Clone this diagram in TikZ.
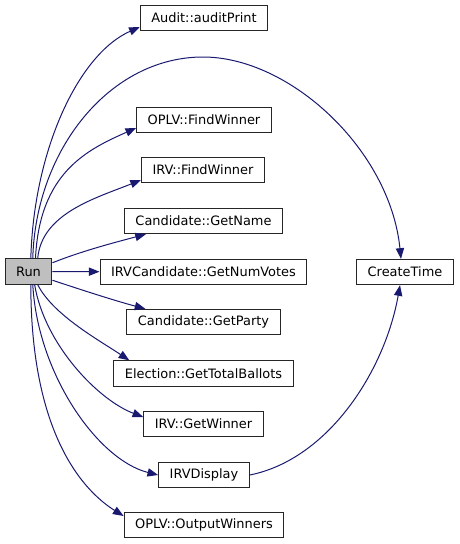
\documentclass[tikz,border=0pt]{standalone}
\usepackage{fontspec}
\setmainfont{DejaVu Sans}
\usetikzlibrary{arrows.meta,calc}
\definecolor{edgeblue}{HTML}{191970}
\definecolor{runfill}{HTML}{BFBFBF}
\tikzset{
  fn/.style={rectangle, draw=black!85, line width=0.75pt, fill=white,
             font=\fontsize{9.7}{11}\selectfont, inner xsep=8.3pt, inner ysep=2pt,
             minimum height=19pt},
  cur/.style={fn, fill=runfill},
  fl/.style={-{Triangle[length=8pt,width=6.2pt]}, draw=edgeblue, line width=0.75pt},
}
\begin{document}
\begin{tikzpicture}[x=0.75pt,y=-0.75pt]
\useasboundingbox (0,0) rectangle (460,544);
\node[cur] (run) at (28.5,271.5) {Run};
\node[fn] (audit) at (204,18) {Audit::auditPrint};
\node[fn] (oplvfind) at (204,120) {OPLV::FindWinner};
\node[fn] (irvfind) at (203,170) {IRV::FindWinner};
\node[fn] (getname) at (203.5,221) {Candidate::GetName};
\node[fn] (getnumvotes) at (203.5,272) {IRVCandidate::GetNumVotes};
\node[fn] (getparty) at (203.5,322) {Candidate::GetParty};
\node[fn] (gettotal) at (203.5,373.5) {Election::GetTotalBallots};
\node[fn] (irvgetwinner) at (203.5,424) {IRV::GetWinner};
\node[fn] (irvdisplay) at (204,475) {IRVDisplay};
\node[fn] (outputwinners) at (204,525) {OPLV::OutputWinners};
\node[fn] (createtime) at (405,272) {CreateTime};
\coordinate (peak) at (203,57);
\draw[fl] (run.80) .. controls +(3,-109) and +(-61,27) .. ($(audit.west)+(0,9)$);
\draw[fl] (run.72) .. controls +(3,-109) and +(-93,0) .. (peak)
  .. controls +(87,0) and +(-11,-109) .. ($(createtime.north)+(-4,0)$);
\draw[fl] (run.62) .. controls +(4,-85) and +(-50,22) .. ($(oplvfind.west)+(0,8)$);
\draw[fl] (run.55) .. controls +(4,-45) and +(-45,18) .. ($(irvfind.west)+(0,10)$);
\draw[fl] (run.20) .. controls +(30,-12) and +(-30,8) .. ($(getname.south west)+(22,0)$);
\draw[fl] (run) -- (getnumvotes);
\draw[fl] (run.-20) .. controls +(30,10) and +(-30,-8) .. ($(getparty.north west)+(19,0)$);
\draw[fl] (run.-55) .. controls +(15,30) and +(-30,-20) .. ($(gettotal.north west)+(16,0)$);
\draw[fl] (run.-65) .. controls +(10,60) and +(-45,-17) .. ($(irvgetwinner.west)+(0,-7)$);
\draw[fl] (run.-72) .. controls +(5,90) and +(-60,-15) .. (irvdisplay.west);
\draw[fl] (run.-80) .. controls +(0,150) and +(-40,-25) .. ($(outputwinners.west)+(0,-9)$);
\draw[fl] (irvdisplay.east) .. controls +(79,-16) and +(-15,85) .. ($(createtime.south)+(-5,0)$);
\end{tikzpicture}
\end{document}
